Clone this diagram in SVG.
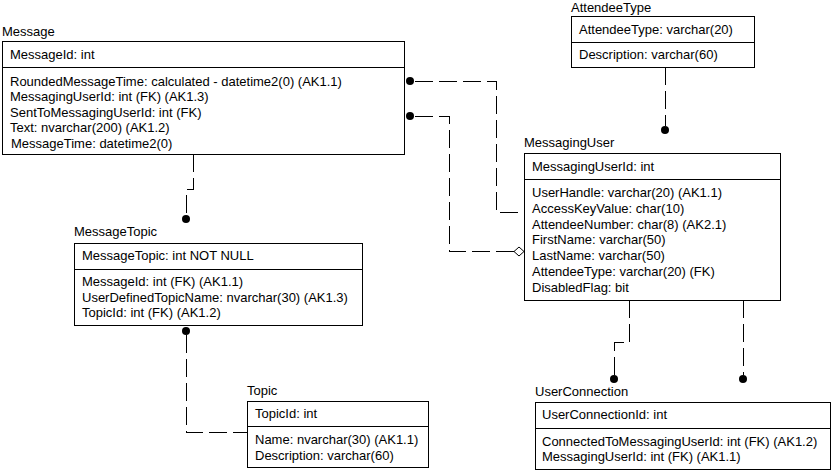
<svg xmlns="http://www.w3.org/2000/svg" width="832" height="471" viewBox="0 0 832 471">
<style>
text{font-family:"Liberation Sans",Arial,sans-serif;font-size:13px;fill:#000}
.box{fill:#fff;stroke:#000;stroke-width:1;shape-rendering:crispEdges}
.div{stroke:#000;stroke-width:1;shape-rendering:crispEdges}
.rel{fill:none;stroke:#000;stroke-width:1;stroke-dasharray:18 6;shape-rendering:crispEdges}
.dot{fill:#000}
.dia{fill:#fff;stroke:#000;stroke-width:1}
</style>
<rect width="832" height="471" fill="#fff"/>
<g id="connectors">
<path class="rel" d="M414.5,81.5 H496.5 V212.5 H524"/>
<circle class="dot" cx="410" cy="81" r="4"/>
<path class="rel" d="M414.5,116.5 H449.5 V251.5 H514"/>
<circle class="dot" cx="410" cy="116" r="4"/>
<polygon class="dia" points="514,251.5 519,247 524,251.5 519,256"/>
<path class="rel" d="M665.5,67 V126"/>
<circle class="dot" cx="665" cy="130" r="4"/>
<path class="rel" d="M193.5,154 V189.5 H186.5 V215"/>
<circle class="dot" cx="186" cy="219" r="4"/>
<circle class="dot" cx="186" cy="331" r="4"/>
<path class="rel" d="M186.5,335 V432.5 H247"/>
<path class="rel" d="M629.5,300 V342.5 H614.5 V375"/>
<circle class="dot" cx="614" cy="379" r="4"/>
<path class="rel" d="M743.5,300 V375"/>
<circle class="dot" cx="743" cy="379" r="4"/>
</g>
<g id="Message">
<text x="2" y="36">Message</text>
<rect class="box" x="2.5" y="41.5" width="402" height="113"/>
<line class="div" x1="2.5" y1="67.5" x2="404.5" y2="67.5"/>
<text x="10" y="59">MessageId: int</text>
<text x="10" y="86">RoundedMessageTime: calculated - datetime2(0) (AK1.1)</text>
<text x="10" y="101.4">MessagingUserId: int (FK) (AK1.3)</text>
<text x="10" y="116.8">SentToMessagingUserId: int (FK)</text>
<text x="10" y="132.2">Text: nvarchar(200)  (AK1.2)</text>
<text x="11" y="147.6">MessageTime: datetime2(0)</text>
</g>
<g id="AttendeeType">
<text x="571" y="11.5">AttendeeType</text>
<rect class="box" x="571.5" y="16.5" width="183" height="51"/>
<line class="div" x1="571.5" y1="42.5" x2="754.5" y2="42.5"/>
<text x="579" y="34">AttendeeType: varchar(20)</text>
<text x="579" y="59">Description: varchar(60)</text>
</g>
<g id="MessagingUser">
<text x="524" y="147">MessagingUser</text>
<rect class="box" x="524.5" y="153.5" width="256" height="147"/>
<line class="div" x1="524.5" y1="179.5" x2="780.5" y2="179.5"/>
<text x="532" y="171">MessagingUserId: int</text>
<text x="532" y="197">UserHandle: varchar(20) (AK1.1)</text>
<text x="532" y="212.8">AccessKeyValue: char(10)</text>
<text x="532" y="228.6">AttendeeNumber: char(8) (AK2.1)</text>
<text x="532" y="244.4">FirstName: varchar(50)</text>
<text x="532" y="260.2">LastName: varchar(50)</text>
<text x="532" y="276">AttendeeType: varchar(20) (FK)</text>
<text x="532" y="291.8">DisabledFlag: bit</text>
</g>
<g id="MessageTopic">
<text x="74" y="236">MessageTopic</text>
<rect class="box" x="74.5" y="243.5" width="288" height="82"/>
<line class="div" x1="74.5" y1="269.5" x2="362.5" y2="269.5"/>
<text x="82" y="260">MessageTopic: int NOT NULL</text>
<text x="82" y="286">MessageId: int (FK) (AK1.1)</text>
<text x="82" y="301.7">UserDefinedTopicName: nvarchar(30) (AK1.3)</text>
<text x="82" y="317.3">TopicId: int (FK) (AK1.2)</text>
</g>
<g id="Topic">
<text x="247" y="395">Topic</text>
<rect class="box" x="247.5" y="401.5" width="181" height="66"/>
<line class="div" x1="247.5" y1="426.5" x2="428.5" y2="426.5"/>
<text x="255" y="418">TopicId: int</text>
<text x="255" y="444">Name: nvarchar(30) (AK1.1)</text>
<text x="255" y="459.5">Description: varchar(60)</text>
</g>
<g id="UserConnection">
<text x="535" y="396">UserConnection</text>
<rect class="box" x="535.5" y="402.5" width="295" height="67"/>
<line class="div" x1="535.5" y1="428.5" x2="830.5" y2="428.5"/>
<text x="542" y="419">UserConnectionId: int</text>
<text x="542" y="445.5">ConnectedToMessagingUserId: int (FK) (AK1.2)</text>
<text x="542" y="460.5">MessagingUserId: int (FK) (AK1.1)</text>
</g>
</svg>
